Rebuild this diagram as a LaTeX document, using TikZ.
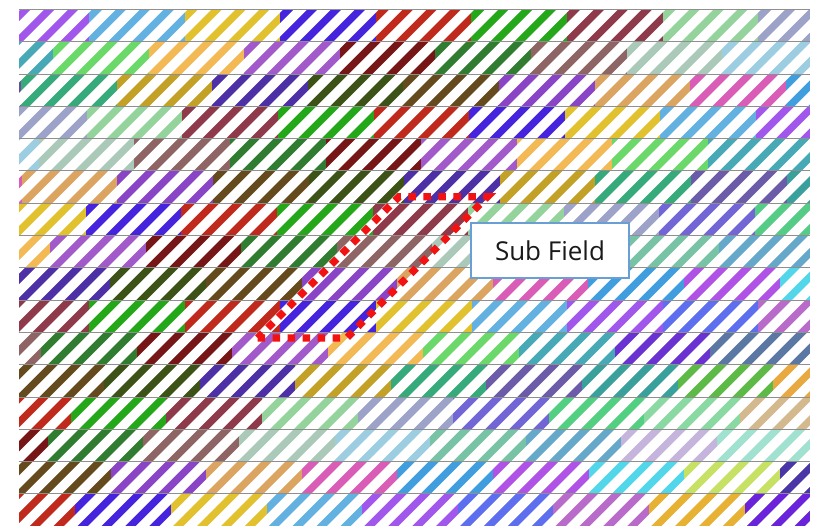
\documentclass[tikz,border=0pt]{standalone}
\usepackage{fontspec}
\newfontfamily\labelfont{Open Sans}
\definecolor{cpA}{HTML}{A156EC}
\definecolor{clbA}{HTML}{62B1E0}
\definecolor{cyl}{HTML}{E2C12F}
\definecolor{cdbl}{HTML}{4624DD}
\definecolor{crd}{HTML}{C02A1D}
\definecolor{cgr}{HTML}{24A81A}
\definecolor{cmr}{HTML}{8E3A4A}
\definecolor{clg}{HTML}{94D49C}
\definecolor{cgb}{HTML}{9CA2C8}
\definecolor{ctl}{HTML}{47A9B6}
\definecolor{cgg}{HTML}{6BD86A}
\definecolor{cor}{HTML}{F3B955}
\definecolor{cvi}{HTML}{A25ACB}
\definecolor{cdr}{HTML}{761616}
\definecolor{cdg}{HTML}{307C30}
\definecolor{cmv}{HTML}{8E6464}
\definecolor{csg}{HTML}{AAC9B8}
\definecolor{clbb}{HTML}{9CCDE0}
\definecolor{csp}{HTML}{6A4C9E}
\definecolor{cgt}{HTML}{36AA7B}
\definecolor{cog}{HTML}{C2A126}
\definecolor{cind}{HTML}{4D30A6}
\definecolor{cdo}{HTML}{3C5216}
\definecolor{cbr}{HTML}{644A1C}
\definecolor{cpp}{HTML}{8A44C6}
\definecolor{ctn}{HTML}{DBA460}
\definecolor{cpk}{HTML}{D95CB7}
\definecolor{cbb}{HTML}{409EDF}
\definecolor{cslp}{HTML}{6B5BA8}
\definecolor{ctea}{HTML}{3AA09C}
\definecolor{csb}{HTML}{7266D6}
\definecolor{cem}{HTML}{55CC86}
\definecolor{csf}{HTML}{78C2A6}
\definecolor{cst}{HTML}{66A8CA}
\definecolor{cvn}{HTML}{B052E6}
\definecolor{ccy}{HTML}{52D6EA}
\definecolor{ccf}{HTML}{5D6FEE}
\definecolor{coc}{HTML}{B86BC9}
\definecolor{cbv}{HTML}{6A32D0}
\definecolor{csl}{HTML}{5B77A3}
\definecolor{clm}{HTML}{5EBA46}
\definecolor{cor2}{HTML}{E9A941}
\definecolor{cem2}{HTML}{52CF81}
\definecolor{cmn}{HTML}{8BD9A2}
\definecolor{ctn2}{HTML}{D4B98F}
\definecolor{cth}{HTML}{C5B5DC}
\definecolor{caq}{HTML}{A0E1D0}
\definecolor{cylg}{HTML}{C6E163}
\definecolor{cdsl}{HTML}{4B36A8}
\definecolor{cgd}{HTML}{E7B133}
\definecolor{cbv2}{HTML}{6A22DA}
\definecolor{rowgray}{HTML}{8F8F8F}
\definecolor{dotred}{HTML}{F21212}
\definecolor{boxblue}{HTML}{6A9FD6}
\definecolor{labeltext}{HTML}{1A1A1A}
\tikzset{
  rowline/.style={draw=rowgray, line width=1pt},
  gapline/.style={draw=white, line width=9.4pt},
  reddots/.style={draw=dotred, line width=7.2pt, dash pattern=on 7.5pt off 7.5pt},
  labelbox/.style={draw=boxblue, fill=white, line width=1.3pt, minimum width=158pt,
    minimum height=55pt, inner sep=0pt, text=labeltext,
    font=\labelfont\fontsize{26}{30}\selectfont}
}
\newcommand\stripecells[3]{%
  \foreach \cc [count=\ii from 0] in {#3} {%
    \pgfmathsetmacro\xs{ifthenelse(\ii==0,18.5,#2+(\ii-1)*95.6)}%
    \fill[\cc] (\xs,{9.5+32.3*#1}) rectangle (810,{9.5+32.3*(#1+1)});
  }%
}
\begin{document}
\begin{tikzpicture}[x=1pt,y=-1pt]
\useasboundingbox (0,0) rectangle (817,526);
\fill[white] (0,0) rectangle (817,526);
\stripecells{0}{89}{cpA,clbA,cyl,cdbl,crd,cgr,cmr,clg,cgb}
\stripecells{1}{52.9}{ctl,cgg,cor,cvi,cdr,cdg,cmv,csg,clbb}
\stripecells{2}{21}{csp,cgt,cog,cind,cdo,cbr,cpp,ctn,cpk,cbb}
\stripecells{3}{86.8}{cgb,clg,cmr,cgr,crd,cdbl,cyl,clbA,cpA}
\stripecells{4}{38.8}{clbb,csg,cmv,cdg,cdr,cvi,cor,cgg,ctl,ctl}
\stripecells{5}{21.7}{cpk,ctn,cpp,cbr,cdo,cind,cog,cgt,cslp,ctea}
\stripecells{6}{85.8}{cyl,cdbl,crd,cgr,cmr,clg,cgb,csb,cem}
\stripecells{7}{50}{cor,cvi,cdr,cdg,cmv,csg,clbb,csf,cst}
\stripecells{8}{110.4}{cind,cdo,cbr,cpp,ctn,cpk,cbb,cvn,ccy}
\stripecells{9}{89.2}{cmr,cgr,crd,cdbl,cyl,clbA,cpA,ccf,coc}
\stripecells{10}{40.9}{cmv,cdg,cdr,cvi,cor,cgg,ctl,cbv,csl,csl}
\stripecells{11}{104}{cbr,cdo,cind,cog,cgt,cslp,ctea,clm,cor2}
\stripecells{12}{70.8}{crd,cgr,cmr,clg,cgb,csb,cem2,cmn,ctn2}
\stripecells{13}{47.7}{cdr,cdg,cmv,csg,clbb,csf,cst,cth,caq}
\stripecells{14}{110.5}{cbr,cpp,ctn,cpk,cbb,cvn,ccy,cylg,cdsl}
\stripecells{15}{75.4}{crd,cdbl,cyl,clbA,cpA,ccf,coc,cgd,cbv2}
% white gaps between the diagonal stripes
\begin{scope}
\clip (18.5,9.5) rectangle (810,526);
\foreach \k in {-3,...,56} {
  \draw[gapline] ({70.95+23.9*\k},0) -- ++(-530,530);
}
\end{scope}
% row separators
\foreach \r in {0,...,15} {
  \draw[rowline] (18.5,{9.5+32.3*\r}) -- (810,{9.5+32.3*\r});
}
% dotted sub field outline
\coordinate (bl) at (257.7,338);
\coordinate (br) at (346.7,338);
\coordinate (tr) at (487.5,196.7);
\coordinate (tl) at (399,196.7);
\draw[reddots] (bl) -- (br) -- (tr) -- (tl) -- cycle;
% label
\node[labelbox] (sub) at (550,250.5) {Sub Field};
\end{tikzpicture}
\end{document}
